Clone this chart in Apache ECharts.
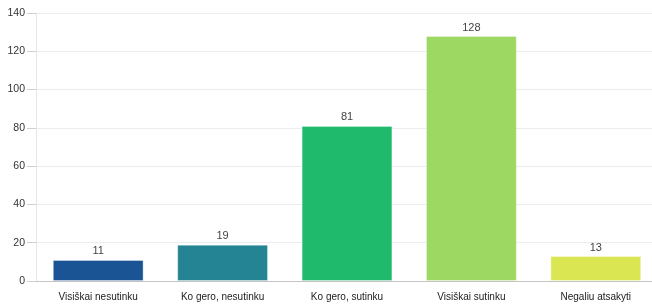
<!DOCTYPE html>
<html>
<head>
<meta charset="utf-8">
<script src="https://cdn.jsdelivr.net/npm/echarts@6/dist/echarts.min.js"></script>
<style>
  html, body { margin: 0; padding: 0; background: #fff; overflow: hidden; }
  #chart { width: 664px; height: 306px; }
</style>
</head>
<body>
<div id="chart"></div>
<script>
var categories = ["Visiškai nesutinku", "Ko gero, nesutinku", "Ko gero, sutinku", "Visiškai sutinku", "Negaliu atsakyti"];
var counts = [11, 19, 81, 128, 13];
var barColors = ["#1a5495", "#248494", "#1fba6c", "#9dd863", "#dae752"];

var myChart = echarts.init(document.getElementById("chart"));

var option = {
  animation: false,
  grid: { left: 36, right: 6, top: 13, bottom: 25, containLabel: false },
  xAxis: {
    type: "category",
    data: categories,
    axisLine: { lineStyle: { color: "#c4c4c4" } },
    axisTick: { show: false },
    axisLabel: { color: "#222", fontSize: 10, fontFamily: "Arial, Liberation Sans", margin: 11 }
  },
  yAxis: {
    type: "value",
    min: 0,
    max: 140,
    interval: 20,
    axisLine: { show: true, lineStyle: { color: "#e6e6e6" } },
    axisTick: { show: true, length: 9, lineStyle: { color: "#d0d0d0" } },
    axisLabel: { color: "#333", fontSize: 10.5, fontFamily: "Arial, Liberation Sans", margin: 11 },
    splitLine: { lineStyle: { color: "#ececec" } }
  },
  series: [
    {
      type: "bar",
      data: counts.map(function (v, i) {
        return { value: v, itemStyle: { color: barColors[i] } };
      }),
      barWidth: "73%",
      itemStyle: { borderColor: "rgba(255,255,255,0.35)", borderWidth: 1 },
      label: {
        show: true,
        position: "top",
        distance: 3,
        color: "#444",
        fontSize: 11,
        fontFamily: "Arial, Liberation Sans"
      }
    }
  ]
};

myChart.setOption(option);
</script>
</body>
</html>
